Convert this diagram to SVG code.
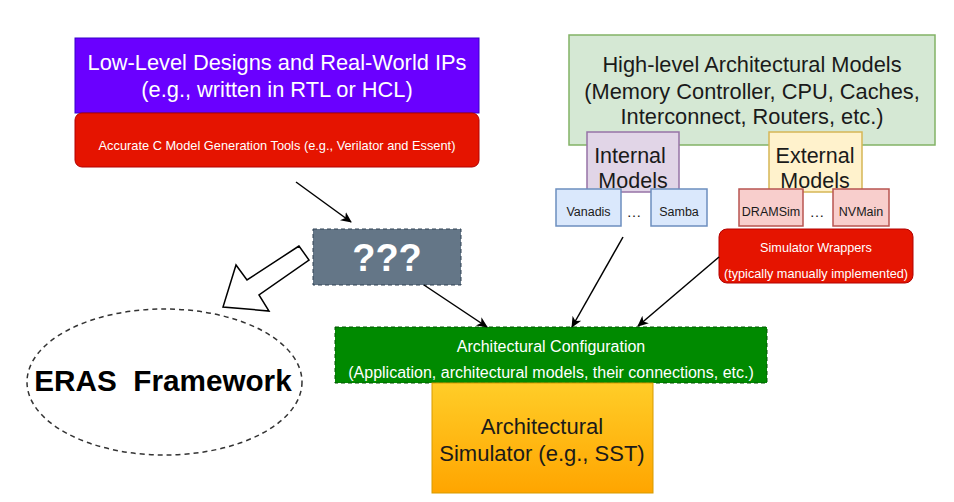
<svg xmlns="http://www.w3.org/2000/svg" width="954" height="502" viewBox="0 0 954 502">
<style>
text{font-family:"Liberation Sans",Arial,sans-serif;text-anchor:middle}
.w{fill:#ffffff}
.k{fill:#1a1a1a}
.conn{stroke:#000;stroke-width:1.5;fill:none}
</style>
<defs>
<marker id="ah" viewBox="0 0 12 12" refX="10" refY="6" markerWidth="12" markerHeight="12" markerUnits="userSpaceOnUse" orient="auto">
<path d="M0,1 L11,6 L0,11 L3,6 Z" fill="#000"/>
</marker>
<linearGradient id="yg" x1="0" y1="0" x2="0" y2="1">
<stop offset="0" stop-color="#ffcd28"/>
<stop offset="1" stop-color="#ffa500"/>
</linearGradient>
</defs>
<rect width="954" height="502" fill="#fff"/>

<g id="lowlevel">
<rect x="75" y="38" width="404" height="75" fill="#6a00ff" stroke="#3700cc"/>
<text class="w" x="277" y="70" font-size="21.8">Low-Level Designs and Real-World IPs</text>
<text class="w" x="277" y="97" font-size="21.8">(e.g., written in RTL or HCL)</text>
</g>
<g id="ctools">
<rect x="75" y="113" width="404" height="54" rx="7" fill="#e51400" stroke="#b20000"/>
<text class="w" x="277" y="150" font-size="12.8">Accurate C Model Generation Tools (e.g., Verilator and Essent)</text>
</g>

<g id="highlevel">
<rect x="569" y="35" width="366" height="110" fill="#d5e8d4" stroke="#82b366" stroke-width="1.5"/>
<text class="k" x="752" y="72" font-size="21.8">High-level Architectural Models</text>
<text class="k" x="752" y="99" font-size="21.8">(Memory Controller, CPU, Caches,</text>
<text class="k" x="752" y="124" font-size="21.8">Interconnect, Routers, etc.)</text>
</g>
<g id="internal">
<rect x="587" y="132" width="92" height="60" fill="#e1d5e7" stroke="#9673a6" stroke-width="1.5"/>
<text class="k" x="630" y="163" font-size="21.5">Internal</text>
<text class="k" x="633" y="188" font-size="21.5">Models</text>
</g>
<g id="external">
<rect x="769" y="132" width="93" height="60" fill="#fff2cc" stroke="#d6b656" stroke-width="1.5"/>
<text class="k" x="815" y="163" font-size="21.5">External</text>
<text class="k" x="815" y="188" font-size="21.5">Models</text>
</g>
<g id="vanadis">
<rect x="556" y="189" width="65" height="37" fill="#dae8fc" stroke="#6c8ebf" stroke-width="1.5"/>
<text class="k" x="588.5" y="216" font-size="12.5">Vanadis</text>
</g>
<text class="k" x="634" y="217" font-size="15">…</text>
<g id="samba">
<rect x="651" y="189" width="56" height="37" fill="#dae8fc" stroke="#6c8ebf" stroke-width="1.5"/>
<text class="k" x="679" y="216" font-size="12.5">Samba</text>
</g>
<g id="dramsim">
<rect x="739" y="189" width="64" height="37" fill="#f8cecc" stroke="#b85450" stroke-width="1.5"/>
<text class="k" x="771" y="216" font-size="12.5">DRAMSim</text>
</g>
<text class="k" x="817" y="217" font-size="15">…</text>
<g id="nvmain">
<rect x="833" y="189" width="56" height="37" fill="#f8cecc" stroke="#b85450" stroke-width="1.5"/>
<text class="k" x="861" y="216" font-size="12.5">NVMain</text>
</g>
<g id="wrappers">
<rect x="719" y="229" width="194" height="54" rx="8" fill="#e51400" stroke="#b20000"/>
<text class="w" x="816" y="252" font-size="12.7">Simulator Wrappers</text>
<text class="w" x="816" y="278" font-size="12.7">(typically manually implemented)</text>
</g>

<g id="unknown">
<rect x="313" y="229" width="148" height="56" fill="#647687" stroke="#314354" stroke-dasharray="4 3"/>
<text class="w" x="387" y="271" font-size="38" font-weight="bold">???</text>
</g>

<g id="eras">
<ellipse cx="164.5" cy="382" rx="137.5" ry="73" fill="#fff" stroke="#333" stroke-width="1.5" stroke-dasharray="5 4"/>
<text x="163" y="391" font-family="Roboto,'Liberation Sans',sans-serif" font-size="29.7" font-weight="bold" fill="#000" xml:space="preserve">ERAS  Framework</text>
</g>

<g id="config">
<rect x="335" y="327" width="432" height="56" fill="#008a00" stroke="#005700" stroke-dasharray="4 3"/>
<text class="w" x="551" y="352" font-size="16">Architectural Configuration</text>
<text class="w" x="551" y="378" font-size="16">(Application, architectural models, their connections, etc.)</text>
</g>
<g id="simulator">
<rect x="432" y="383" width="221" height="110" fill="url(#yg)" stroke="#d79b00"/>
<text class="k" x="542" y="434" font-size="22">Architectural</text>
<text class="k" x="542" y="461" font-size="22">Simulator (e.g., SST)</text>
</g>

<g id="connectors">
<line class="conn" x1="296" y1="182" x2="351" y2="222" marker-end="url(#ah)"/>
<line class="conn" x1="424" y1="285" x2="487" y2="327" marker-end="url(#ah)"/>
<line class="conn" x1="623" y1="237" x2="572" y2="327" marker-end="url(#ah)"/>
<line class="conn" x1="719" y1="257" x2="638" y2="326" marker-end="url(#ah)"/>
<polygon points="299,246 247,280 236,265 223,307 269,311 259,295 309,260" fill="#fff" stroke="#000" stroke-width="1.5" stroke-linejoin="miter"/>
</g>
</svg>
